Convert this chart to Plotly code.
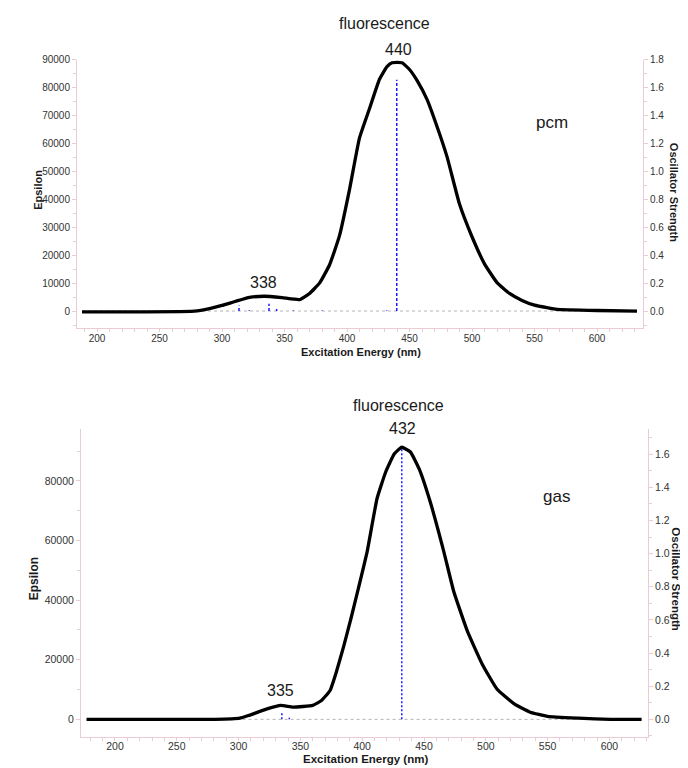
import plotly.graph_objects as go

# pcm spectrum (top)
pcm_nm = [188, 278, 290, 300, 311, 322, 334, 348, 362, 370, 378, 386, 394, 402,
          410, 418, 426, 432, 436, 444, 450, 456, 464, 472, 480, 490, 500, 510,
          520, 530, 540, 550, 560, 568, 600, 632]
pcm_eps = [-300, 0, 900, 2000, 3500, 4900, 5300, 4800, 4100, 6300, 10000, 16500,
           27000, 43500, 62000, 72500, 83000, 87500, 88900, 88900, 86500, 82600,
           75800, 66100, 55300, 38300, 26600, 16900, 10200, 6300, 3800, 2100,
           1200, 600, 200, 0]
pcm_stick_nm = [313.6, 321.8, 337.6, 343.7, 357, 380, 431.7, 439.8]
pcm_stick_f = [0.04, 0.005, 0.052, 0.015, 0.004, 0.003, 0.005, 1.657]

# gas spectrum (bottom)
gas_nm = [177, 281, 301, 308, 323, 334, 344, 360, 367, 374, 379, 385, 391, 397,
          404, 412, 419, 426, 432, 439, 446, 455, 466, 474, 485, 497, 509, 523,
          536, 550, 575, 601, 626]
gas_eps = [0, 0, 400, 1300, 3500, 4700, 4100, 4700, 6300, 9700, 15800, 24500,
           34000, 44100, 56300, 74100, 83000, 89100, 91300, 89700, 84100, 73000,
           56300, 43000, 29700, 18600, 10200, 5200, 2400, 1000, 400, 0, 0]
gas_stick_nm = [335, 341, 432]
gas_stick_f = [0.044, 0.01, 1.64]

# the page body has an 8px margin: positions below are window pixels
OFF = 8
W, H = 688, 768
FONT = "Liberation Sans, Arial, sans-serif"
PINK = "#ecccd4"


def px(x):
    return (x - OFF) / W


def py(y):
    return 1 - (y - OFF) / H


def sticks(xs, fs):
    sx, sy = [], []
    for x0, f in zip(xs, fs):
        sx += [x0, x0, None]
        sy += [0, f, None]
    return sx, sy


fig = go.Figure()

# top panel: y = oscillator (right, base), y2 = epsilon (left, overlay)
fig.add_trace(go.Scatter(x=[pcm_nm[0], pcm_nm[-1]], y=[0, 0], xaxis='x', yaxis='y',
                         mode='lines', line=dict(color='#b4b4b4', width=1, dash='3px,3px'),
                         hoverinfo='skip'))
sx, sy = sticks(pcm_stick_nm, pcm_stick_f)
fig.add_trace(go.Scatter(x=sx, y=sy, xaxis='x', yaxis='y', mode='lines',
                         line=dict(color='#1a1aff', width=1.5, dash='3px,2px')))
fig.add_trace(go.Scatter(x=pcm_nm, y=pcm_eps, xaxis='x', yaxis='y2', mode='lines',
                         line=dict(color='black', width=3.3, shape='spline', smoothing=0.4)))

# bottom panel: y3 = oscillator (right, base), y4 = epsilon (left, overlay)
fig.add_trace(go.Scatter(x=[gas_nm[0], gas_nm[-1]], y=[0, 0], xaxis='x2', yaxis='y3',
                         mode='lines', line=dict(color='#b4b4b4', width=1, dash='3px,3px'),
                         hoverinfo='skip'))
sx, sy = sticks(gas_stick_nm, gas_stick_f)
fig.add_trace(go.Scatter(x=sx, y=sy, xaxis='x2', yaxis='y3', mode='lines',
                         line=dict(color='#1a1aff', width=1.5, dash='2px,2px')))
fig.add_trace(go.Scatter(x=gas_nm, y=gas_eps, xaxis='x2', yaxis='y4', mode='lines',
                         line=dict(color='black', width=3.3, shape='spline', smoothing=0.4)))


def ax(**kw):
    d = dict(showline=True, linecolor=PINK, linewidth=1, ticks='outside', ticklen=4,
             tickcolor=PINK, showgrid=False, zeroline=False,
             tickfont=dict(family=FONT, size=10, color='#333'))
    d.update(kw)
    return d


xminor = dict(dtick=10, ticks='outside', ticklen=3, tickcolor=PINK)

fig.update_layout(
    width=W, height=H, showlegend=False,
    margin=dict(l=0, r=0, t=0, b=0),
    paper_bgcolor='white', plot_bgcolor='white',
    xaxis=ax(domain=[px(77), px(643)], range=[184, 636.8], anchor='y',
             tick0=200, dtick=50, ticklen=3, ticklabelstandoff=-2, minor=xminor),
    yaxis=ax(domain=[py(325), py(55)], range=[-0.121, 1.8], anchor='x', side='right',
             tick0=0, dtick=0.2, tickformat='.1f',
             minor=dict(dtick=0.1, ticks='outside', ticklen=3, tickcolor=PINK)),
    yaxis2=ax(range=[-6047, 90000], overlaying='y', side='left', anchor='x',
              tick0=0, dtick=10000, tickformat='d',
              minor=dict(dtick=5000, ticks='outside', ticklen=3, tickcolor=PINK)),
    xaxis2=ax(domain=[px(81), px(648)], range=[172.5, 631.2], anchor='y3',
              tick0=200, dtick=50, ticklen=3, ticklabelstandoff=-4,
              tickfont=dict(family=FONT, size=10.5, color='#333'), minor=xminor),
    yaxis3=ax(domain=[py(737), py(427)], range=[-0.108, 1.75], anchor='x2', side='right',
              tick0=0, dtick=0.2, tickformat='.1f', tickfont=dict(family=FONT, size=10.5, color='#333'),
              minor=dict(dtick=0.1, ticks='outside', ticklen=3, tickcolor=PINK)),
    yaxis4=ax(range=[-6000, 97333], overlaying='y3', side='left', anchor='x2',
              tick0=0, dtick=20000, tickformat='d', tickfont=dict(family=FONT, size=10.5, color='#333'),
              minor=dict(dtick=10000, ticks='outside', ticklen=3, tickcolor=PINK)),
)


def label(text, x, y, size=16, bold=False, angle=0):
    fig.add_annotation(text=f"<b>{text}</b>" if bold else text, xref='paper', yref='paper',
                       x=px(x), y=py(y), xanchor='center', yanchor='middle',
                       showarrow=False, textangle=angle,
                       font=dict(family=FONT, size=size, color='#1a1a1a'))


label("fluorescence", 384, 19, 16)
label("440", 398, 45, 16)
label("338", 263, 279, 16)
label("pcm", 552, 118, 17)
label("Epsilon", 38, 186, 11, bold=True, angle=-90)
label("Oscillator Strength", 674, 188, 11, bold=True, angle=90)
label("Excitation Energy (nm)", 361, 349, 11, bold=True)

label("fluorescence", 398, 403, 16)
label("432", 402, 426, 16)
label("335", 280, 690, 16)
label("gas", 556, 495, 17)
label("Epsilon", 34, 578, 12, bold=True, angle=-90)
label("Oscillator Strength", 676, 578, 11.5, bold=True, angle=90)
label("Excitation Energy (nm)", 365, 759, 11.5, bold=True)

fig.write_html("out.html")
